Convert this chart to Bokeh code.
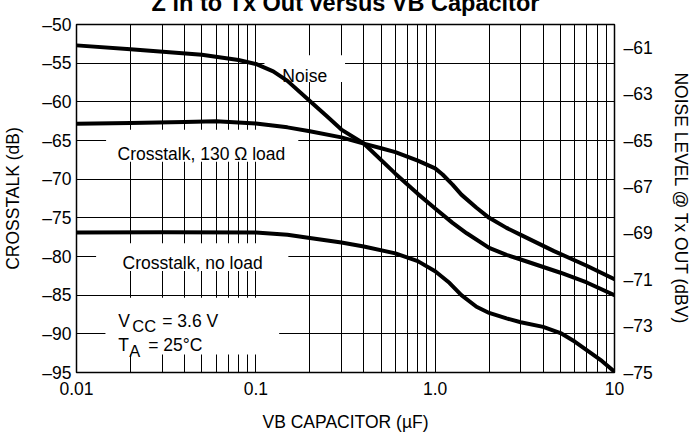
from bokeh.plotting import figure
from bokeh.models import (Range1d, LinearAxis, FixedTicker)
from bokeh.core.properties import value
from bokeh.embed import file_html
from bokeh.resources import INLINE

# ---------------- data ----------------
title_text = "Z in to Tx Out versus VB Capacitor"

# Crosstalk with 130 ohm load (left axis, dB)
ct130_x = [0.01, 0.02, 0.04, 0.06, 0.1, 0.15, 0.2, 0.3, 0.4, 0.5, 0.6, 0.8, 1.0, 1.1, 1.25, 1.4, 1.7, 2.0, 2.5, 3.0, 4.6, 7.0, 10]
ct130_y = [-62.85, -62.75, -62.6, -62.5, -62.8, -63.3, -63.8, -64.6, -65.4, -66.0, -66.5, -67.6, -68.6, -69.4, -70.7, -72.0, -73.7, -75.0, -76.3, -77.2, -79.3, -81.2, -82.95]

# Crosstalk with no load (left axis, dB)
ctnl_x = [0.01, 0.03, 0.1, 0.15, 0.2, 0.3, 0.4, 0.6, 0.8, 1.0, 1.2, 1.4, 1.7, 2.0, 2.5, 3.0, 4.0, 5.0, 6.0, 7.0, 8.5, 10]
ctnl_y = [-76.9, -76.85, -76.9, -77.2, -77.6, -78.2, -78.7, -79.6, -80.6, -81.9, -83.4, -85.0, -86.5, -87.3, -88.0, -88.5, -89.1, -89.9, -91.0, -92.1, -93.5, -94.9]

# Noise level @ Tx OUT (right axis, dBV)
noise_x = [0.01, 0.02, 0.05, 0.08, 0.1, 0.125, 0.15, 0.2, 0.25, 0.3, 0.4, 0.6, 0.8, 1.0, 1.25, 1.5, 2.0, 2.5, 3.0, 5.0, 7.0, 10]
noise_y = [-60.90, -61.07, -61.30, -61.53, -61.70, -62.02, -62.43, -63.30, -63.97, -64.53, -65.13, -66.43, -67.30, -67.93, -68.55, -69.00, -69.63, -69.93, -70.13, -70.70, -71.12, -71.67]

left_ticks = [-95, -90, -85, -80, -75, -70, -65, -60, -55, -50]
right_ticks = [-75, -73, -71, -69, -67, -65, -63, -61]
x_ticks = [0.01, 0.1, 1.0, 10]
x_tick_labels = ["0.01", "0.1", "1.0", "10"]

FONT = "Liberation Sans"
FS = "17.5px"
SHIFT = 21  # part of the canvas pushed above the window (title is cut off)

p = figure(width=696, height=434 + SHIFT, x_axis_type="log",
           x_range=Range1d(0.01, 10), y_range=Range1d(-95, -50),
           output_backend="svg", toolbar_location=None,
           min_border_left=73, min_border_right=82,
           min_border_top=0, min_border_bottom=62)
p.styles = {"margin-top": "-%dpx" % SHIFT}
p.title.text = title_text
p.title.align = "center"
p.title.text_font = FONT
p.title.text_font_size = "23.5px"
p.title.text_font_style = "bold"
p.title.text_color = "black"
p.title.standoff = 17
p.background_fill_color = "white"
p.border_fill_color = "white"
p.outline_line_color = "black"
p.outline_line_width = 1.5
p.outline_line_alpha = 1

p.extra_y_ranges = {"noise": Range1d(-75, -60)}

# grids
grid_x = [m * 10.0 ** e for e in (-2, -1, 0) for m in range(1, 10)] + [10]
p.xgrid[0].ticker = FixedTicker(ticks=grid_x)
p.ygrid[0].ticker = FixedTicker(ticks=left_ticks)
for g in (p.xgrid[0], p.ygrid[0]):
    g.grid_line_color = "black"
    g.grid_line_width = 1
    g.grid_line_alpha = 1

def style_axis(ax):
    ax.axis_line_color = None
    ax.major_tick_line_color = None
    ax.minor_tick_line_color = None
    ax.major_tick_out = 0
    ax.major_tick_in = 0
    ax.minor_tick_out = 0
    ax.minor_tick_in = 0
    ax.major_label_text_font = FONT
    ax.major_label_text_font_size = FS
    ax.major_label_text_color = "black"
    ax.axis_label_text_font = FONT
    ax.axis_label_text_font_size = FS
    ax.axis_label_text_font_style = "normal"
    ax.axis_label_text_color = "black"

xa = p.xaxis[0]
xa.ticker = FixedTicker(ticks=x_ticks)
xa.major_label_overrides = {t: s for t, s in zip(x_ticks, x_tick_labels)}
xa.axis_label = "VB CAPACITOR (\u00b5F)"
style_axis(xa)
xa.major_label_standoff = 9
xa.axis_label_standoff = 14

ya = p.yaxis[0]
ya.ticker = FixedTicker(ticks=left_ticks)
ya.major_label_overrides = {t: "\u2013" + str(abs(t)) for t in left_ticks}
ya.axis_label = "CROSSTALK (dB)"
style_axis(ya)
ya.major_label_standoff = 5
ya.axis_label_standoff = 16

ra = LinearAxis(y_range_name="noise", ticker=FixedTicker(ticks=right_ticks))
ra.major_label_overrides = {t: "\u2013" + str(abs(t)) for t in right_ticks}
ra.axis_label = "NOISE LEVEL @ Tx OUT (dBV)"
style_axis(ra)
ra.major_label_standoff = 9
ra.axis_label_standoff = 15
p.add_layout(ra, "right")

# white label backgrounds (hide grid behind the annotations)
box_left = [0.1117, 0.01462, 0.01286, 0.0145]
box_right = [0.3144, 0.1725, 0.1518, 0.1349]
box_top = [-53.98, -63.62, -78.28, -85.35]
box_bottom = [-57.45, -67.74, -81.88, -92.67]
p.quad(left=box_left, right=box_right, top=box_top, bottom=box_bottom,
       fill_color="white", line_color=None)

# curves
p.line(ct130_x, ct130_y, line_color="black", line_width=4, line_join="round", line_cap="round")
p.line(ctnl_x, ctnl_y, line_color="black", line_width=4, line_join="round", line_cap="round")
p.line(noise_x, noise_y, y_range_name="noise", line_color="black", line_width=4,
       line_join="round", line_cap="round")

def txt(x, y, s, size=FS, xoff=0):
    p.text(x=[x], y=[y], text=[s], text_font=value(FONT), text_font_size=value(size),
           text_color="black", text_align="left", text_baseline="alphabetic", x_offset=xoff)

txt(0.1406, -56.6, "Noise")
txt(0.01694, -66.75, "Crosstalk, 130 \u03a9 load")
txt(0.01807, -80.81, "Crosstalk, no load")
txt(0.0171, -88.30, "V")
txt(0.0171, -88.94, "CC", size="16.5px", xoff=14)
txt(0.0171, -88.30, "= 3.6 V", xoff=44)
txt(0.0171, -91.39, "T")
txt(0.0171, -92.16, "A", size="16.5px", xoff=11)
txt(0.0171, -91.39, "= 25\u00b0C", xoff=30)

open("out.html", "w").write(file_html(p, INLINE))
